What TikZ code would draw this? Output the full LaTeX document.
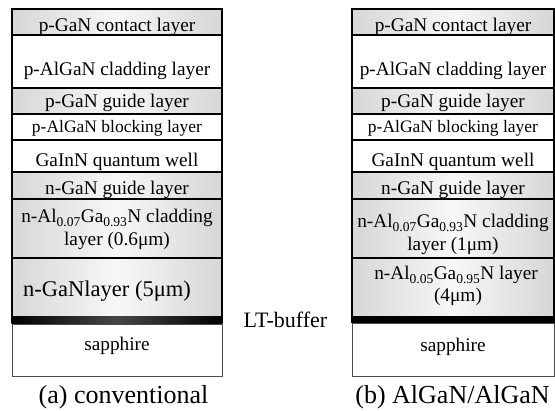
\documentclass[tikz,border=0pt]{standalone}
\usepackage{fontspec}
\setmainfont{Liberation Serif}
\begin{document}
\begin{tikzpicture}[x=1pt,y=-1pt,
  lay/.style={draw=black, line width=1.3pt},
  glay/.style={lay, left color=gray!32, right color=gray!32, middle color=gray!6},
  wlay/.style={lay, fill=white},
  sapph/.style={draw=gray!60!black, line width=0.9pt, fill=white},
  txt/.style={anchor=base, inner sep=0pt, font=\fontsize{19.3}{23}\selectfont},
  smalltxt/.style={anchor=base, inner sep=0pt, font=\fontsize{17.5}{21}\selectfont},
  bigtxt/.style={anchor=base, inner sep=0pt, font=\fontsize{22.5}{26}\selectfont},
  captxt/.style={anchor=base, inner sep=0pt, font=\fontsize{26}{30}\selectfont},
  lttxt/.style={anchor=base, inner sep=0pt, font=\fontsize{22}{26}\selectfont}]
\useasboundingbox (0,0) rectangle (555,411);

% ---------- left stack (a) ----------
\draw[sapph] (12,324) rectangle (222,376);
\draw[glay] (12,9) rectangle (222,35);
\draw[wlay] (12,35) rectangle (222,88);
\draw[glay] (12,88) rectangle (222,114);
\draw[wlay] (12,114) rectangle (222,140);
\draw[wlay] (12,140) rectangle (222,172);
\draw[glay] (12,172) rectangle (222,199);
\draw[glay] (12,199) rectangle (222,258);
\draw[glay] (12,258) rectangle (222,317);
\shade[left color=black, right color=black, middle color=gray!55!black] (11.4,317) rectangle (222.6,324);

\node[txt]      (a1) at (117,31.3) {p-GaN contact layer};
\node[txt]      (a2) at (117,75.5) {p-AlGaN cladding layer};
\node[txt]      (a3) at (117,107.5){p-GaN guide layer};
\node[smalltxt] (a4) at (117,132.5){p-AlGaN blocking layer};
\node[txt]      (a5) at (117,166.5){GaInN quantum well};
\node[txt]      (a6) at (117,194.5){n-GaN guide layer};
\node[txt]      (a7) at (117,223)  {n-Al\textsubscript{0.07}Ga\textsubscript{0.93}N cladding};
\node[txt]      (a8) at (117,246)  {layer (0.6μm)};
\node[bigtxt]   (a9) at (107,297)  {n-GaNlayer (5μm)};
\node[txt]      (a10) at (117,351) {sapphire};

% ---------- right stack (b) ----------
\draw[sapph] (352,323) rectangle (554,376);
\draw[glay] (352,9) rectangle (554,35);
\draw[wlay] (352,35) rectangle (554,88);
\draw[glay] (352,88) rectangle (554,114);
\draw[wlay] (352,114) rectangle (554,140);
\draw[wlay] (352,140) rectangle (554,172);
\draw[glay] (352,172) rectangle (554,199);
\draw[glay] (352,199) rectangle (554,258);
\draw[glay] (352,258) rectangle (554,317);
\fill[black] (351.4,317) rectangle (554.6,323);

\node[txt]      (b1) at (453,31.3) {p-GaN contact layer};
\node[txt]      (b2) at (453,75.5) {p-AlGaN cladding layer};
\node[txt]      (b3) at (453,107.5){p-GaN guide layer};
\node[smalltxt] (b4) at (453,132.5){p-AlGaN blocking layer};
\node[txt]      (b5) at (453,166.5){GaInN quantum well};
\node[txt]      (b6) at (453,194.5){n-GaN guide layer};
\node[txt]      (b7) at (453,228)  {n-Al\textsubscript{0.07}Ga\textsubscript{0.93}N cladding};
\node[txt]      (b8) at (453,251)  {layer (1μm)};
\node[txt]      (b9) at (456,280)  {n-Al\textsubscript{0.05}Ga\textsubscript{0.95}N layer};
\node[txt]      (b10) at (458,302) {(4μm)};
\node[txt]      (b11) at (453,352) {sapphire};

% ---------- labels ----------
\node[lttxt]  (lt)  at (285.5,328) {LT-buffer};
\node[captxt] (ca)  at (123.5,404) {(a) conventional};
\node[captxt] (cb)  at (452.5,404) {(b) AlGaN/AlGaN};
\end{tikzpicture}
\end{document}
